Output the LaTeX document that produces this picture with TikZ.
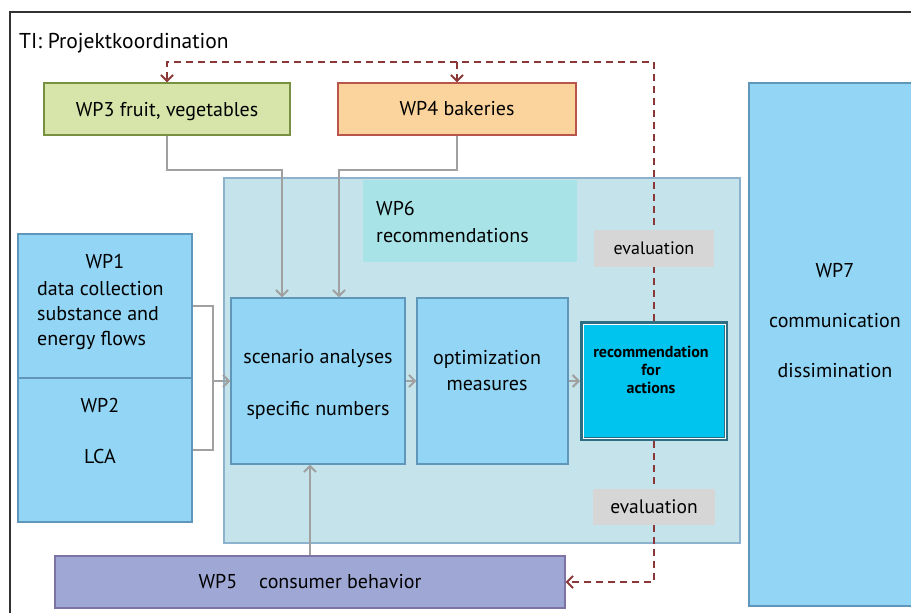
\documentclass[tikz,border=0pt]{standalone}
\usepackage{fontspec}
\setmainfont{PT Sans}
\usetikzlibrary{arrows.meta, positioning, calc}
\definecolor{FrameGray}{RGB}{50,50,50}
\definecolor{WPthreeFill}{RGB}{215,228,170}
\definecolor{WPthreeLine}{RGB}{120,145,65}
\definecolor{WPfourFill}{RGB}{251,211,156}
\definecolor{WPfourLine}{RGB}{185,85,75}
\definecolor{WPblue}{RGB}{146,213,245}
\definecolor{WPblueLine}{RGB}{95,150,185}
\definecolor{WPsixFill}{RGB}{197,227,235}
\definecolor{WPsixLine}{RGB}{140,178,205}
\definecolor{WPsixLabel}{RGB}{168,227,232}
\definecolor{RecFill}{RGB}{0,196,238}
\definecolor{RecLine}{RGB}{45,110,130}
\definecolor{EvalGray}{RGB}{214,214,214}
\definecolor{WPfiveFill}{RGB}{159,168,213}
\definecolor{WPfiveLine}{RGB}{125,115,165}
\definecolor{FlowGray}{RGB}{160,160,160}
\definecolor{FeedRed}{RGB}{140,55,55}

\begin{document}
\begin{tikzpicture}[x=1pt, y=-1pt,
    wpbox/.style={rectangle, line width=1.2pt, inner sep=0pt, font=\fontsize{20}{25}\selectfont},
    txt/.style={inner sep=0pt, font=\fontsize{20}{25}\selectfont},
    evalbox/.style={fill=EvalGray, inner sep=0pt, font=\fontsize{18}{22}\selectfont},
    flow/.style={draw=FlowGray, line width=2pt},
    feedback/.style={draw=FeedRed, line width=2pt, dash pattern=on 7pt off 5pt},
    >={Straight Barb[length=6pt, width=12pt]}]
    \useasboundingbox (0,0) rectangle (911,613);

    % Project frame
    \draw[FrameGray, line width=1.5pt] (911,12) -- (10,12) -- (10,613);
    \node[txt, anchor=base west, font=\fontsize{21.5}{25}\selectfont] (title) at (19,48) {TI: Projektkoordination};

    % WP6 area
    \node[wpbox, draw=WPsixLine, fill=WPsixFill, minimum width=516, minimum height=365] (wp6) at (482,360.5) {};
    \node[fill=WPsixLabel, inner sep=0pt, minimum width=214, minimum height=82] (wp6lab) at (470,221) {};
    \node[txt, anchor=north west, align=left, font=\fontsize{20}{27}\selectfont] (wp6txt) at (376,201) {WP6\\recommendations};

    % Work packages
    \node[wpbox, draw=WPthreeLine, fill=WPthreeFill, minimum width=246, minimum height=52, text depth=0pt] (wp3) at (167,109) {WP3 fruit, vegetables};
    \node[wpbox, draw=WPfourLine, fill=WPfourFill, minimum width=238, minimum height=52] (wp4) at (457,109) {WP4 bakeries};
    \node[wpbox, draw=WPblueLine, fill=WPblue, minimum width=174, minimum height=144] (wp1) at (105,306) {};
    \node[wpbox, draw=WPblueLine, fill=WPblue, minimum width=174, minimum height=144] (wp2) at (105,450) {};
    \node[txt, anchor=base] (wp1t) at (105,268) {WP1};
    \node[txt, anchor=north west, align=left] (wp1body) at (37,281) {data collection\\substance and\\energy flows};
    \node[txt, anchor=north, align=center] (wp2t) at (100,398) {WP2\\[26pt]LCA};

    \node[wpbox, draw=WPblueLine, fill=WPblue, minimum width=174, minimum height=166] (scen) at (318,381) {};
    \node[txt, anchor=north, align=center] (scent) at (318,349) {scenario analyses\\[27pt]specific numbers};
    \node[wpbox, draw=WPblueLine, fill=WPblue, minimum width=151, minimum height=166] (opt) at (492.5,381) {};
    \node[txt, anchor=north, align=center, font=\fontsize{20}{26}\selectfont] (optt) at (487,350) {optimization\\measures};
    \node[wpbox, draw=RecLine, line width=4pt, fill=RecFill, minimum width=144, minimum height=116] (rec) at (654,381) {};
    \draw[white, line width=1pt] ([xshift=3pt,yshift=-3pt]rec.north west) rectangle ([xshift=-3pt,yshift=3pt]rec.south east);
    \node[txt, anchor=north, align=center, font=\fontsize{16}{18}\selectfont\bfseries] (rect) at (651,345.5) {recommendation\\for\\actions};

    \node[wpbox, draw=WPblueLine, fill=WPblue, minimum width=250, minimum height=523] (wp7) at (874,344.5) {};
    \node[txt, anchor=north, align=center] (wp7t) at (835,263) {WP7\\[25pt]communication\\[25pt]dissimination};
    \node[wpbox, draw=WPfiveLine, fill=WPfiveFill, minimum width=510, minimum height=52] (wp5) at (310,582) {WP5\hspace{22pt}consumer behavior};

    % Data flows
    \draw[flow, ->] (wp3.south) -- ++(0,34) -| ([xshift=-36pt]scen.north);
    \draw[flow, ->] (wp4.south) -- ++(0,34) -| ([xshift=21pt]scen.north);
    \draw[flow] (wp1.east) -- ++(20,0) coordinate (join) |- (wp2.east);
    \draw[flow, ->] (join |- scen.west) -- (scen.west);
    \draw[flow, ->] (scen) -- (opt);
    \draw[flow, ->] (opt) -- (rec);
    \draw[flow, ->] (wp5.north) -- (wp5.north |- scen.south);

    % Feedback
    \coordinate (fbline) at (0,62);
    \draw[feedback, ->] (rec.north) -- (rec.north |- fbline) -| (wp3.north);
    \draw[feedback, ->] (wp4.north |- fbline) -- (wp4.north);
    \draw[feedback, ->] (rec.south) |- (wp5.east);

    \node[evalbox, minimum width=120, minimum height=37] (eval1) at (654,248.5) {evaluation};
    \node[evalbox, minimum width=122, minimum height=36, font=\fontsize{19.5}{22}\selectfont] (eval2) at (654,507) {evaluation};
\end{tikzpicture}
\end{document}
